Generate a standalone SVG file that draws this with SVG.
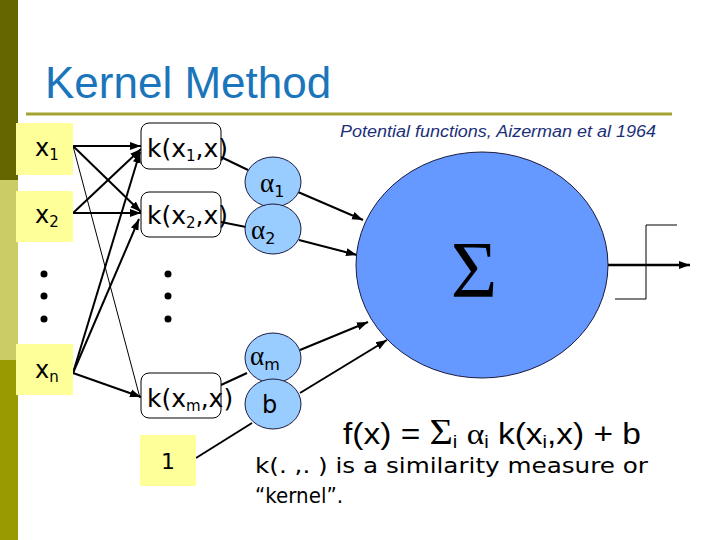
<svg xmlns="http://www.w3.org/2000/svg" width="720" height="540" viewBox="0 0 720 540">
<defs>
<style>
.ybox{fill:#ffff99;stroke:none}
.kbox{fill:#ffffff;stroke:#000;stroke-width:1}
.sm{fill:#99ccff;stroke:#1a1a40;stroke-width:1}
.big{fill:#6699ff;stroke:#1a1a40;stroke-width:1}
.lbl{font-family:"DejaVu Sans","Verdana",sans-serif;fill:#000}
.gr{font-family:"Liberation Serif","Times New Roman",serif;fill:#000}
.ln{stroke:#000;stroke-width:2;fill:none}
.thin{stroke:#000;stroke-width:1;fill:none}
.dot{fill:#000}
</style>
<marker id="ah" markerUnits="userSpaceOnUse" markerWidth="12" markerHeight="10" refX="11" refY="5" orient="auto">
<path d="M0,1 L11,5 L0,9 Z" fill="#000"/>
</marker>
</defs>
<rect x="0" y="0" width="720" height="540" fill="#fff"/>
<rect x="0" y="0" width="18" height="180" fill="#666600"/>
<rect x="0" y="180" width="18" height="180" fill="#cccc66"/>
<rect x="0" y="360" width="18" height="180" fill="#999900"/>
<text x="45" y="98" font-family="Liberation Sans, Arial, sans-serif" font-size="44" fill="#1b75bb">Kernel Method</text>
<line x1="26" y1="114" x2="672" y2="114" stroke="#a3a332" stroke-width="3"/>
<text x="340" y="137" font-family="Liberation Sans, Arial, sans-serif" font-size="16" font-style="italic" fill="#1c2f78" textLength="316" lengthAdjust="spacingAndGlyphs">Potential functions, Aizerman et al 1964</text>

<g id="connectors">
<line class="ln" x1="73" y1="146" x2="141" y2="146" marker-end="url(#ah)"/>
<line class="ln" x1="73" y1="146" x2="141" y2="212" marker-end="url(#ah)"/>
<line class="thin" x1="73" y1="146" x2="140" y2="398"/>
<line class="ln" x1="73" y1="213" x2="141" y2="149" marker-end="url(#ah)"/>
<line class="ln" x1="73" y1="213" x2="141" y2="213" marker-end="url(#ah)"/>
<line class="ln" x1="73" y1="373" x2="140" y2="152" marker-end="url(#ah)"/>
<line class="ln" x1="73" y1="373" x2="139" y2="219" marker-end="url(#ah)"/>
<line class="ln" x1="73" y1="373" x2="141" y2="397" marker-end="url(#ah)"/>
<line class="ln" x1="221" y1="157" x2="248" y2="170"/>
<line class="ln" x1="221" y1="222" x2="246" y2="227"/>
<line class="ln" x1="221" y1="385" x2="247" y2="373"/>
<line class="ln" x1="196" y1="458" x2="252" y2="423"/>
<line class="ln" x1="298" y1="192" x2="363" y2="220" marker-end="url(#ah)"/>
<line class="ln" x1="299" y1="240" x2="357" y2="255" marker-end="url(#ah)"/>
<line class="ln" x1="300" y1="350" x2="368" y2="322" marker-end="url(#ah)"/>
<line class="ln" x1="300" y1="393" x2="387" y2="340" marker-end="url(#ah)"/>
<line stroke="#000" stroke-width="2.5" x1="608" y1="265" x2="690" y2="265" marker-end="url(#ah)"/>
<polyline class="thin" stroke-width="1.5" points="615,299 646,299 646,225 677,225"/>
</g>

<g id="x1"><rect class="ybox" x="16" y="123" width="57" height="52"/><text class="lbl" x="35" y="156" font-size="24">x<tspan font-size="15" dy="4">1</tspan></text></g>
<g id="x2"><rect class="ybox" x="16" y="191" width="57" height="51"/><text class="lbl" x="35" y="223" font-size="24">x<tspan font-size="15" dy="4">2</tspan></text></g>
<g id="xn"><rect class="ybox" x="16" y="344" width="57" height="51"/><text class="lbl" x="35" y="378" font-size="24">x<tspan font-size="15" dy="4">n</tspan></text></g>
<g id="one"><rect class="ybox" x="140" y="435" width="56" height="51"/><text class="lbl" x="168" y="469" font-size="22" text-anchor="middle">1</text></g>

<g id="dots-left"><circle class="dot" cx="44" cy="274" r="3.5"/><circle class="dot" cx="44" cy="296" r="3.5"/><circle class="dot" cx="44" cy="319" r="3.5"/></g>
<g id="dots-mid"><circle class="dot" cx="168" cy="274" r="3.5"/><circle class="dot" cx="168" cy="296" r="3.5"/><circle class="dot" cx="168" cy="319" r="3.5"/></g>

<g id="k1"><rect class="kbox" x="141" y="123" width="80" height="46" rx="8"/><text class="lbl" x="147" y="157" font-size="25">k(x<tspan font-size="15" dy="4">1</tspan><tspan dy="-4">,x)</tspan></text></g>
<g id="k2"><rect class="kbox" x="141" y="192" width="80" height="45" rx="8"/><text class="lbl" x="147" y="224" font-size="25">k(x<tspan font-size="15" dy="4">2</tspan><tspan dy="-4">,x)</tspan></text></g>
<g id="km"><rect class="kbox" x="141" y="373" width="80" height="45" rx="8"/><text class="lbl" x="147" y="407" font-size="25">k(x<tspan font-size="15" dy="4">m</tspan><tspan dy="-4">,x)</tspan></text></g>

<g id="a1"><ellipse class="sm" cx="273" cy="182" rx="28" ry="25"/><text class="gr" x="260" y="192" font-size="27">α<tspan class="lbl" font-size="16" dy="5">1</tspan></text></g>
<g id="a2"><ellipse class="sm" cx="273" cy="229" rx="28" ry="25"/><text class="gr" x="251" y="239" font-size="27">α<tspan class="lbl" font-size="16" dy="5">2</tspan></text></g>
<g id="am"><ellipse class="sm" cx="273" cy="358" rx="28" ry="25"/><text class="gr" x="250" y="365" font-size="27">α<tspan class="lbl" font-size="16" dy="5">m</tspan></text></g>
<g id="b"><ellipse class="sm" cx="273" cy="404" rx="28" ry="25"/><text class="lbl" x="262" y="413" font-size="24">b</text></g>

<g id="sigma"><ellipse class="big" cx="482" cy="265" rx="126" ry="113"/><text class="gr" x="474" y="297" font-size="80" text-anchor="middle">Σ</text></g>

<text x="343" y="444" font-family="Liberation Sans, Arial, sans-serif" font-size="30" textLength="298" lengthAdjust="spacingAndGlyphs">f(x) = <tspan font-family="Liberation Serif, serif" font-size="36">Σ</tspan><tspan font-size="18" dy="4">i</tspan><tspan dy="-4"> </tspan><tspan font-family="Liberation Serif, serif">α</tspan><tspan font-size="18" dy="4">i</tspan><tspan dy="-4"> k(x</tspan><tspan font-size="18" dy="4">i</tspan><tspan dy="-4">,x) + b</tspan></text>
<text class="lbl" x="255" y="473" font-size="22" textLength="393" lengthAdjust="spacingAndGlyphs">k(. ,. ) is a similarity measure or</text>
<text class="lbl" x="255" y="503" font-size="22" textLength="88" lengthAdjust="spacingAndGlyphs">“kernel”.</text>
</svg>
